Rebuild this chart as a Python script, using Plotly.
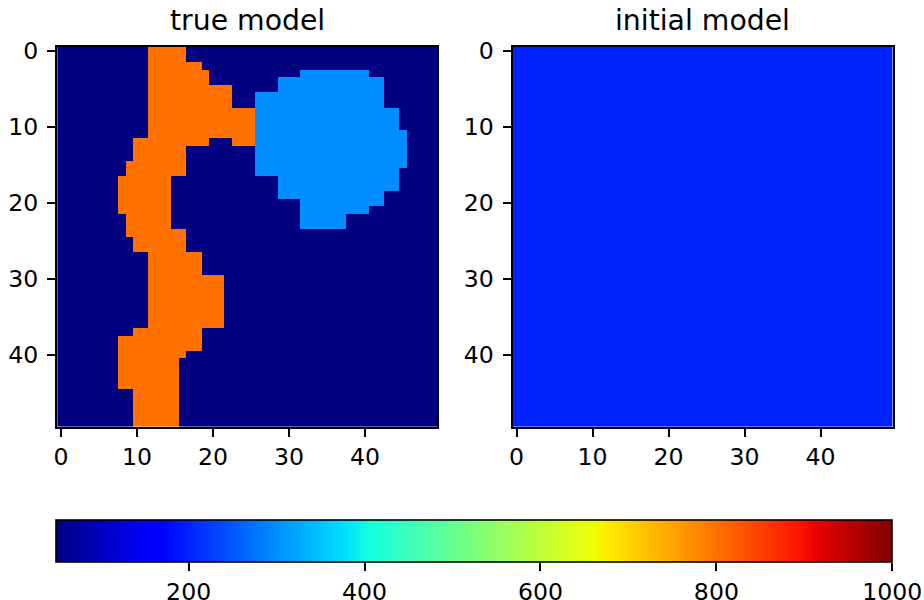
import numpy as np
import plotly.graph_objects as go

# ---------------- data ----------------
NX, NZ = 50, 50
BACKGROUND_VALUE = 50
CHANNEL_VALUE = 800      # orange body
CIRCLE_VALUE = 300       # light-blue body
INITIAL_VALUE = 200      # homogeneous initial model
VMIN, VMAX = 50, 1000

# (row_start, row_end, col_start, col_end), inclusive cell indices
CHANNEL_BLOCKS = [
    (0, 1, 12, 16), (2, 2, 12, 18), (3, 4, 12, 19), (5, 7, 12, 22),
    (8, 11, 12, 25), (12, 12, 10, 19), (12, 12, 23, 25), (13, 14, 10, 16),
    (15, 16, 9, 16), (17, 21, 8, 14), (22, 23, 9, 14), (24, 24, 9, 16),
    (25, 26, 10, 16), (27, 29, 12, 18), (30, 36, 12, 21), (37, 37, 10, 18),
    (38, 39, 8, 18), (40, 40, 8, 16), (41, 44, 8, 15), (45, 49, 10, 15),
]
CIRCLE_BLOCKS = [
    (3, 3, 32, 40), (4, 5, 29, 42), (6, 7, 26, 42), (8, 10, 26, 44),
    (11, 15, 26, 45), (16, 16, 26, 44), (17, 18, 29, 44), (19, 19, 29, 42),
    (20, 20, 32, 42), (21, 21, 32, 40), (22, 23, 32, 37),
]
AXIS_TICKS = [0, 10, 20, 30, 40]
CBAR_TICKS = [200, 400, 600, 800, 1000]
TITLES = ["true model", "initial model"]

true_model = np.full((NZ, NX), BACKGROUND_VALUE, dtype=float)
for r0, r1, c0, c1 in CHANNEL_BLOCKS:
    true_model[r0:r1 + 1, c0:c1 + 1] = CHANNEL_VALUE
for r0, r1, c0, c1 in CIRCLE_BLOCKS:
    true_model[r0:r1 + 1, c0:c1 + 1] = CIRCLE_VALUE
initial_model = np.full((NZ, NX), INITIAL_VALUE, dtype=float)

# ---------------- matplotlib "jet" colormap ----------------
_red = [(0.0, 0.0), (0.35, 0.0), (0.66, 1.0), (0.89, 1.0), (1.0, 0.5)]
_green = [(0.0, 0.0), (0.125, 0.0), (0.375, 1.0), (0.64, 1.0), (0.91, 0.0), (1.0, 0.0)]
_blue = [(0.0, 0.5), (0.11, 1.0), (0.34, 1.0), (0.65, 0.0), (1.0, 0.0)]
stops = sorted(set([p for p, _ in _red + _green + _blue]))
def _ch(seg, s):
    return np.interp(s, [p for p, _ in seg], [v for _, v in seg])
jet = [[s, "rgb(%d,%d,%d)" % (round(255 * _ch(_red, s)), round(255 * _ch(_green, s)),
                              round(255 * _ch(_blue, s)))] for s in stops]

W, H = 924, 600
FONT = "DejaVu Sans"
TICK_FS = 23.6
TITLE_FS = 28.3
xs = np.arange(NX)
ys = np.arange(NZ)

# axes pixel boxes
L1, R1 = 57.2, 437.2
L2, R2 = 512.7, 892.7
TOP, BOT = 46.8, 426.8
CB_L, CB_R, CB_T, CB_B = 56.7, 892.3, 520.0, 562.0

fig = go.Figure()
fig.add_trace(go.Heatmap(
    z=true_model, x=xs, y=ys, colorscale=jet, zmin=VMIN, zmax=VMAX,
    xaxis="x", yaxis="y", hoverinfo="skip",
    colorbar=dict(
        orientation="h", x=(CB_L + CB_R) / 2 / W, xanchor="center",
        len=(CB_R - CB_L) / W, lenmode="fraction", thickness=CB_B - CB_T,
        y=(H - CB_T) / H, yanchor="top", xpad=0, ypad=0,
        outlinewidth=1.6, outlinecolor="black",
        ticks="", showticklabels=False,
    ),
))
fig.add_trace(go.Heatmap(
    z=initial_model, x=xs, y=ys, colorscale=jet, zmin=VMIN, zmax=VMAX,
    xaxis="x2", yaxis="y2", showscale=False, hoverinfo="skip",
))
# empty trace carrying the colour-bar value axis (ticks + labels)
fig.add_trace(go.Scatter(x=[None], y=[None], xaxis="x3", yaxis="y3",
                         showlegend=False, hoverinfo="skip"))

tick_common = dict(
    ticks="outside", ticklen=8.3, tickwidth=1.9, tickcolor="black",
    showgrid=False, zeroline=False,
    tickfont=dict(family=FONT, size=TICK_FS, color="black"),
)
ax_common = dict(tickvals=AXIS_TICKS, showline=True, mirror=True,
                 linecolor="black", linewidth=1.8, **tick_common)
ydom = [1 - BOT / H, 1 - TOP / H]
fig.update_layout(
    width=W, height=H, margin=dict(l=0, r=0, t=0, b=0, autoexpand=False),
    paper_bgcolor="white", plot_bgcolor="white",
    font=dict(family=FONT, color="black"),
    xaxis=dict(domain=[L1 / W, R1 / W], range=[-0.5, 49.5], anchor="y", **ax_common),
    yaxis=dict(domain=ydom, range=[49.5, -0.5], anchor="x", ticklabelstandoff=4, **ax_common),
    xaxis2=dict(domain=[L2 / W, R2 / W], range=[-0.5, 49.5], anchor="y2", **ax_common),
    yaxis2=dict(domain=ydom, range=[49.5, -0.5], anchor="x2", ticklabelstandoff=4, **ax_common),
    xaxis3=dict(domain=[CB_L / W, CB_R / W], range=[VMIN, VMAX], anchor="y3",
                tickvals=CBAR_TICKS, showline=False, **tick_common),
    yaxis3=dict(domain=[1 - CB_B / H, 1 - CB_T / H], range=[0, 1], visible=False),
    annotations=[
        dict(text=TITLES[0], x=(L1 + R1) / 2 / W, y=1 - 39.5 / H, xref="paper", yref="paper",
             xanchor="center", yanchor="bottom", showarrow=False,
             font=dict(family=FONT, size=TITLE_FS, color="black")),
        dict(text=TITLES[1], x=(L2 + R2) / 2 / W, y=1 - 39.5 / H, xref="paper", yref="paper",
             xanchor="center", yanchor="bottom", showarrow=False,
             font=dict(family=FONT, size=TITLE_FS, color="black")),
    ],
)
fig.write_html("out.html")
